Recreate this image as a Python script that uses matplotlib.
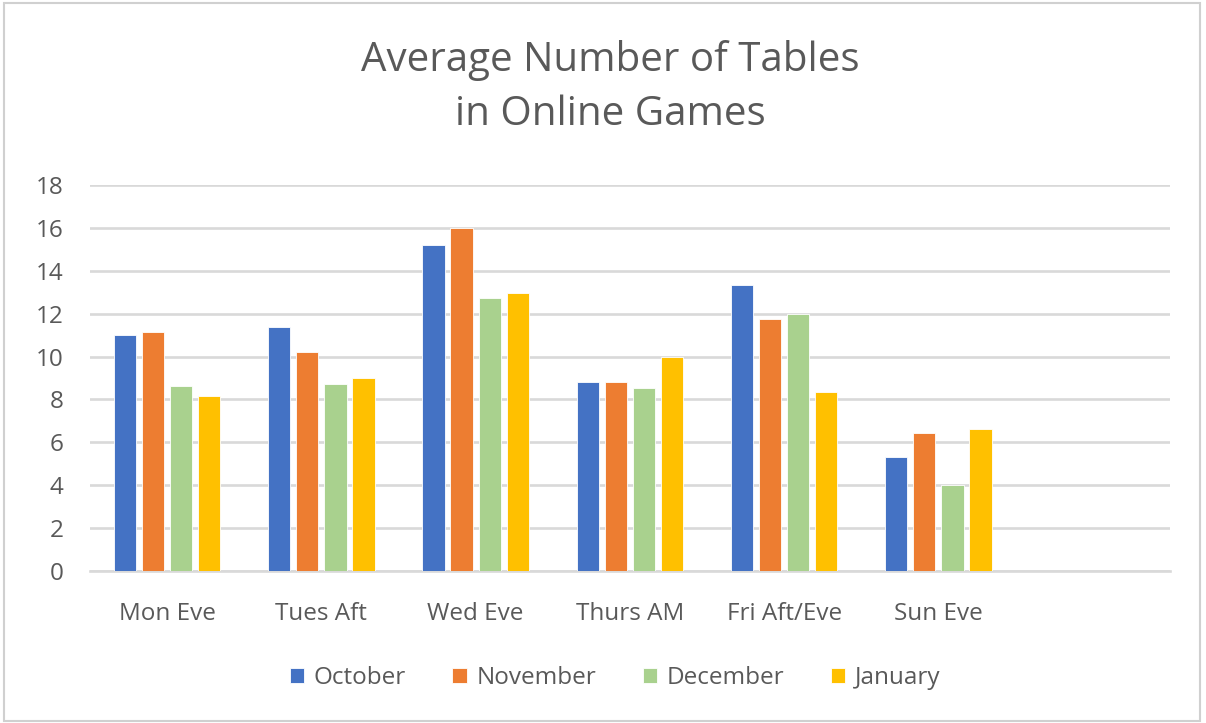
import numpy as np
import matplotlib
matplotlib.use("Agg")
import matplotlib.pyplot as plt
from matplotlib.patches import Rectangle

# data
categories = ["Mon Eve", "Tues Aft", "Wed Eve", "Thurs AM", "Fri Aft/Eve", "Sun Eve", ""]
october = [11.0, 11.4, 15.2, 8.8, 13.33, 5.33]
november = [11.15, 10.2, 16.0, 8.8, 11.77, 6.45]
december = [8.62, 8.7, 12.75, 8.55, 12.0, 4.0]
january = [8.17, 9.0, 12.95, 10.0, 8.33, 6.62]
y_ticks = [0, 2, 4, 6, 8, 10, 12, 14, 16, 18]

series = [("October", october, "#4472C4"),
          ("November", november, "#ED7D31"),
          ("December", december, "#A9D18E"),
          ("January", january, "#FFC000")]

plt.rcParams['font.family'] = ['Open Sans', 'DejaVu Sans']
text_color = "#595959"

fig = plt.figure(figsize=(12.06, 7.23), dpi=100)
ax = fig.add_axes([0.0746, 0.2102, 0.8954, 0.5339])

# outer chart border
fig.patches.append(Rectangle((0.003, 0.003), 0.992, 0.993, transform=fig.transFigure,
                             fill=False, edgecolor="#D0D0D0", linewidth=1.5))

x = np.arange(6)
step = 0.182
width = 0.144
for i, (name, vals, color) in enumerate(series):
    ax.bar(x + (i - 1.5) * step, vals, width=width, color=color,
           edgecolor="white", linewidth=0.6, label=name, zorder=3)

ax.set_xlim(-0.5, len(categories) - 0.5)
ax.set_ylim(0, 18)
ax.set_yticks(y_ticks)
ax.set_xticks(np.arange(len(categories)))
ax.set_xticklabels(categories)
ax.tick_params(axis='both', length=0, labelsize=17.5, colors=text_color)
ax.tick_params(axis='y', pad=19)
ax.tick_params(axis='x', pad=22)
ax.grid(axis='y', color="#D9D9D9", linewidth=1.9, zorder=0)
for side in ['top', 'right', 'left']:
    ax.spines[side].set_visible(False)
ax.spines['bottom'].set_color("#D9D9D9")
ax.spines['bottom'].set_linewidth(1.9)

fig.text(0.506, 0.917, "Average Number of Tables", ha='center', va='center',
         fontsize=29, color=text_color)
fig.text(0.506, 0.841, "in Online Games", ha='center', va='center',
         fontsize=29, color=text_color)

fig.legend(loc='center', bbox_to_anchor=(0.51, 0.062), ncol=4, frameon=False,
           fontsize=17.5, labelcolor=text_color, handlelength=0.6, handleheight=0.6,
           handletextpad=0.4, columnspacing=1.9)

fig.savefig("out.png", dpi=100)
